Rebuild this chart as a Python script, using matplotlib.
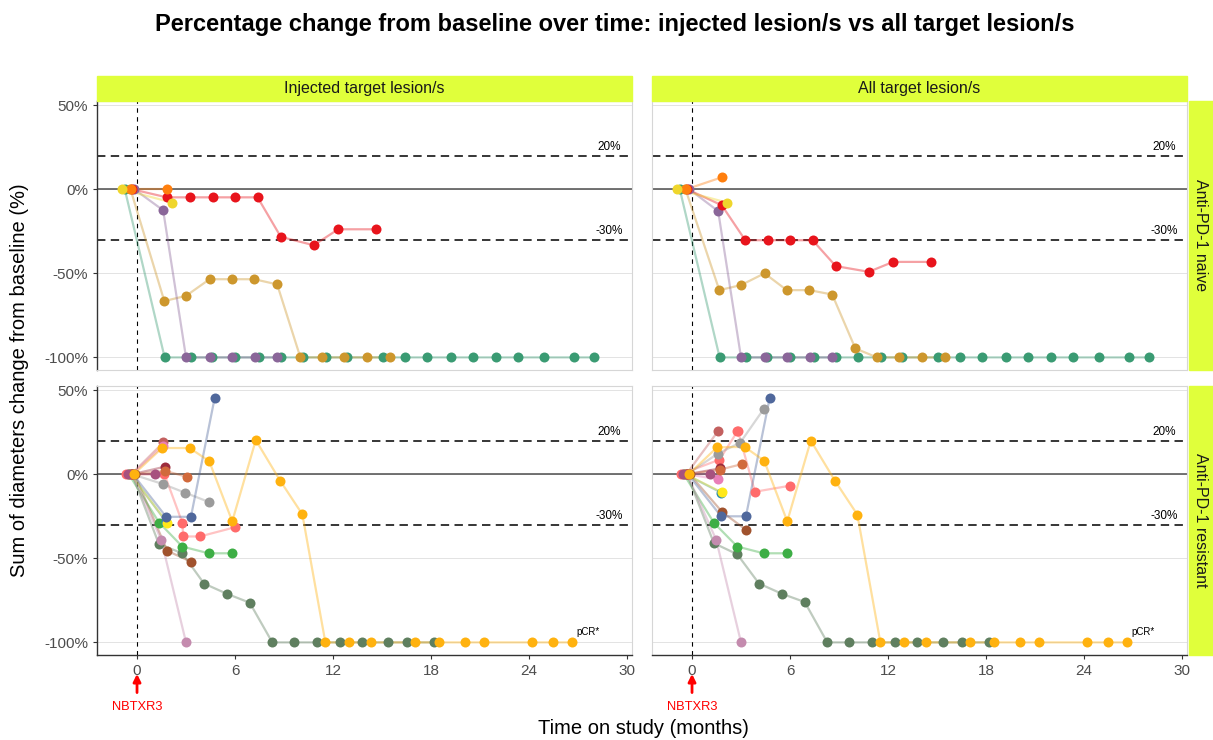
import matplotlib.pyplot as plt
from matplotlib.patches import Rectangle

plt.rcParams['font.family'] = ['Liberation Sans', 'DejaVu Sans']

# ---- data: anti-PD-1 naive patients (baseline first) ----
naive_colors = ['#3A9B73', '#CD972D', '#8A6699', '#E8141C', '#FF7F0E', '#EFD62C']
naive_times = [
    [-0.75, 1.69, 3.28, 4.6, 6.02, 7.44, 8.82, 10.18, 11.54, 12.87, 15.06, 16.42,
     17.78, 19.2, 20.58, 21.96, 23.34, 24.92, 26.76, 27.96],
    [-0.4, 1.67, 3.0, 4.44, 5.8, 7.18, 8.58, 10.0, 11.32, 12.7, 14.08, 15.47],
    [-0.17, 1.6, 3.0, 4.44, 5.8, 7.25, 8.56],
    [-0.3, 1.82, 3.26, 4.65, 6.0, 7.38, 8.8, 10.82, 12.31, 14.6],
    [-0.35, 1.85],
    [-0.92, 2.17],
]
naive_injected = [
    [0, -100, -100, -100, -100, -100, -100, -100, -100, -100, -100, -100,
     -100, -100, -100, -100, -100, -100, -100, -100],
    [0, -66.5, -63.4, -53.5, -53.5, -53.5, -56.6, -100, -100, -100, -100, -100],
    [0, -12.5, -100, -100, -100, -100, -100],
    [0, -4.8, -4.8, -4.8, -4.8, -4.8, -28.3, -33.3, -23.8, -23.8],
    [0, 0],
    [0, -8],
]
naive_all = [
    [0, -100, -100, -100, -100, -100, -100, -100, -100, -100, -100, -100,
     -100, -100, -100, -100, -100, -100, -100, -100],
    [0, -60, -57, -50, -60, -60, -62.6, -94.7, -100, -100, -100, -100],
    [0, -13, -100, -100, -100, -100, -100],
    [0, -9.5, -30.3, -30.3, -30.3, -30.3, -45.7, -49.1, -43.2, -43.2],
    [0, 7.2],
    [0, -8],
]

# ---- data: anti-PD-1 resistant patients ----
resist_colors = ['#5F7F5F', '#A0522D', '#3DAE45', '#2A8CB0', '#FFE81A', '#FF6B6B',
                 '#9B9B9B', '#C48BAE', '#50689C', '#C3605F', '#E97FB8', '#9C2C3C',
                 '#D16A3C', '#A7527F', '#FFB20F']
resist_times = [
    [-0.3, 1.34, 2.77, 4.1, 5.48, 6.9, 8.28, 9.63, 11.01, 12.42, 13.8, 15.39, 16.53, 18.17],
    [-0.15, 1.85, 3.3],
    [-0.5, 1.35, 2.77, 4.38, 5.8],
    [-0.4, 1.8],
    [-0.4, 1.84],
    [-0.7, 1.68, 2.78, 2.82, 3.85, 6.0],
    [-0.3, 1.58, 2.95, 4.38],
    [-0.3, 1.48, 3.0],
    [-0.25, 1.78, 3.3, 4.75],
    [-0.35, 1.62],
    [-0.3, 1.6],
    [-0.3, 1.7],
    [-0.3, 1.72, 3.05],
    [-0.55, 1.12],
    [-0.2, 1.53, 3.22, 4.42, 5.83, 7.27, 8.76, 10.12, 11.53, 12.98, 14.3, 16.99,
     18.5, 20.1, 21.24, 24.2, 25.44, 26.6],
]
resist_injected = [
    [0, -41.5, -47, -65, -71, -76.4, -100, -100, -100, -100, -100, -100, -100, -100],
    [0, -45.5, -52],
    [0, -28.7, -43, -47, -47],
    [0, -28.5],
    [0, -28.7],
    [0, 0, -29, -37, -37, -31.5],
    [0, -5.8, -11, -16.4],
    [0, -39, -100],
    [0, -25.3, -25.3, 45.2],
    [0, 19],
    [0, 17],
    [0, 4.5],
    [0, 2, -1.5],
    [0, 0],
    [0, 15.6, 15.6, 7.8, -28, 20.3, -3.8, -23.8, -100, -100, -100, -100, -100,
     -100, -100, -100, -100, -100],
]
resist_all = [
    [0, -41, -47.6, -65, -71, -76, -100, -100, -100, -100, -100, -100, -100, -100],
    [0, -22.5, -33],
    [0, -29, -43, -47, -47],
    [0, -11],
    [0, -10.8],
    [0, 8.7, 25.5, 25.5, -10.4, -6.8],
    [0, 12.3, 18.8, 38.7],
    [0, -39, -100],
    [0, -25, -25, 45.2],
    [0, 26],
    [0, -3],
    [0, 3.5],
    [0, 2.8, 6],
    [0, 0],
    [0, 16, 16.3, 8, -28, 20, -4, -24, -100, -100, -100, -100, -100,
     -100, -100, -100, -100, -100],
]

col_labels = ['Injected target lesion/s', 'All target lesion/s']
row_labels = ['Anti-PD-1 naive', 'Anti-PD-1 resistant']
x_ticks = [0, 6, 12, 18, 24, 30]
y_ticks = [-100, -50, 0, 50]

W, H = 1213, 740
fig = plt.figure(figsize=(W / 100, H / 100), dpi=100)
strip_col = '#E0FF3B'

col_x = [97, 652]
row_y = [101, 386]
pw, ph = 535, 269

rows = [
    (naive_colors, naive_times, naive_injected, naive_all),
    (resist_colors, resist_times, resist_injected, resist_all),
]

for r in range(2):
    colors, times, inj, allv = rows[r]
    for c in range(2):
        ax = fig.add_axes([col_x[c] / W, 1 - (row_y[r] + ph) / H, pw / W, ph / H])
        ax.set_xlim(-2.45, 30.3)
        ax.set_ylim(-107.5, 52.5)
        ax.set_xticks(x_ticks)
        ax.set_yticks(y_ticks)
        ax.yaxis.grid(True, color='#E3E3E3', lw=0.7)
        ax.set_axisbelow(True)
        for s in ax.spines.values():
            s.set_color('#D6D6D6')
            s.set_linewidth(0.8)
        ax.tick_params(colors='#333333', labelcolor='#4D4D4D', labelsize=11, length=3)
        if c == 0:
            ax.spines['left'].set_color('#333333')
            ax.spines['left'].set_linewidth(1.0)
            ax.set_yticklabels([f'{v}%' for v in y_ticks])
        else:
            ax.tick_params(axis='y', length=0, labelleft=False)
        if r == 1:
            ax.spines['bottom'].set_color('#333333')
            ax.spines['bottom'].set_linewidth(1.0)
        else:
            ax.tick_params(axis='x', length=0, labelbottom=False)

        ax.axhline(0, color='#4D4D4D', lw=1.1, zorder=1)
        ax.axhline(20, color='black', lw=1.1, ls=(0, (5.5, 3.5)), zorder=1)
        ax.axhline(-30, color='black', lw=1.1, ls=(0, (5.5, 3.5)), zorder=1)
        ax.axvline(0, color='black', lw=0.8, ls=(0, (4, 4)), zorder=1)
        ax.text(28.9, 21.5, '20%', ha='center', va='bottom', fontsize=8.5)
        ax.text(28.9, -28.5, '-30%', ha='center', va='bottom', fontsize=8.5)

        vals = inj if c == 0 else allv
        for col, t, v in zip(colors, times, vals):
            ax.plot(t, v, color=col, lw=1.6, alpha=0.4, zorder=2)
        for col, t, v in zip(colors, times, vals):
            ax.plot(t, v, 'o', color=col, ms=7.2, mec='none', zorder=3)

        if r == 1:
            ax.text(27.6, -94, 'pCR*', ha='center', va='center', fontsize=7)
            ax.annotate('', xy=(0, -0.06), xycoords=('data', 'axes fraction'),
                        xytext=(0, -0.15), textcoords=('data', 'axes fraction'),
                        arrowprops=dict(arrowstyle='-|>', color='red', lw=2,
                                        mutation_scale=11),
                        annotation_clip=False)
            ax.text(0, -0.195, 'NBTXR3', transform=ax.get_xaxis_transform(),
                    ha='center', va='center', color='red', fontsize=9.3)

        if r == 0:
            fig.patches.append(Rectangle((col_x[c] / W, 1 - 101 / H), pw / W, 25 / H,
                                         transform=fig.transFigure, color=strip_col,
                                         zorder=0))
            fig.text((col_x[c] + pw / 2) / W, 1 - 88.5 / H, col_labels[c],
                     ha='center', va='center', fontsize=11.5, color='#1A1A1A')
        if c == 1:
            fig.patches.append(Rectangle((1189 / W, 1 - (row_y[r] + ph) / H), 24 / W, ph / H,
                                         transform=fig.transFigure, color=strip_col,
                                         zorder=0))
            fig.text(1201 / W, 1 - (row_y[r] + ph / 2) / H, row_labels[r],
                     ha='center', va='center', rotation=-90, fontsize=11.5, color='#1A1A1A')

fig.text(0.507, 1 - 25 / H,
         'Percentage change from baseline over time: injected lesion/s vs all target lesion/s',
         ha='center', va='center', fontsize=17, fontweight='bold')
fig.text(20 / W, 1 - 380 / H, 'Sum of diameters change from baseline (%)',
         ha='center', va='center', rotation=90, fontsize=14.5)
fig.text(643 / W, 1 - 729 / H, 'Time on study (months)',
         ha='center', va='center', fontsize=14.5)

fig.savefig('out.png', dpi=100)
